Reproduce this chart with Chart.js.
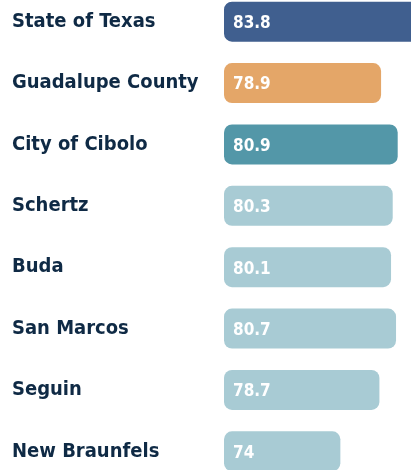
<!DOCTYPE html>
<html>
<head>
<meta charset="utf-8">
<script src="https://cdn.jsdelivr.net/npm/chart.js@4/dist/chart.umd.min.js"></script>
<style>
    html, body { margin: 0; padding: 0; background: #fff; overflow: hidden; }
    #chart { position: absolute; left: 0; top: -21px; }
</style>
</head>
<body>
<canvas id="chart" width="411" height="515"></canvas>
<script>
const places = ['State of Texas', 'Guadalupe County', 'City of Cibolo', 'Schertz', 'Buda', 'San Marcos', 'Seguin', 'New Braunfels'];
const lifeExpectancy = [83.8, 78.9, 80.9, 80.3, 80.1, 80.7, 78.7, 74];
const barColors = ['#405f8f', '#e4a668', '#5397a8', '#a8cbd4', '#a8cbd4', '#a8cbd4', '#a8cbd4', '#a8cbd4'];
const axisMin = 60;
const axisMax = 82.5;

const labelFamily = '"DejaVu Sans Condensed", "DejaVu Sans", sans-serif';

// white value text inside the left end of each bar
const valueLabels = {
    id: 'valueLabels',
    afterDatasetsDraw(chart) {
        const ctx = chart.ctx;
        const meta = chart.getDatasetMeta(0);
        ctx.save();
        ctx.fillStyle = '#ffffff';
        ctx.font = 'condensed bold 17px ' + labelFamily;
        ctx.textAlign = 'left';
        ctx.textBaseline = 'middle';
        meta.data.forEach((bar, i) => {
            const left = Math.min(bar.base, bar.x);
            ctx.fillText(String(lifeExpectancy[i]), left + 9, bar.y + 2);
        });
        ctx.restore();
    }
};

new Chart(document.getElementById('chart'), {
    type: 'bar',
    data: {
        labels: places,
        datasets: [{
            data: lifeExpectancy,
            base: axisMin,
            backgroundColor: barColors,
            borderRadius: 8,
            borderSkipped: false,
            barPercentage: 0.65,
            categoryPercentage: 1
        }]
    },
    options: {
        indexAxis: 'y',
        responsive: false,
        animation: false,
        layout: { padding: { left: 12, right: 0, top: 0, bottom: 0 } },
        plugins: { legend: { display: false }, tooltip: { enabled: false } },
        scales: {
            x: { display: false, min: axisMin, max: axisMax },
            y: {
                grid: { display: false },
                border: { display: false },
                afterFit(scale) { scale.width = 212; },
                ticks: {
                    crossAlign: 'far',
                    padding: 0,
                    color: '#0f2a45',
                    font: { family: labelFamily, size: 20, weight: 'bold', style: 'condensed' }
                }
            }
        }
    },
    plugins: [valueLabels]
});
</script>
</body>
</html>
